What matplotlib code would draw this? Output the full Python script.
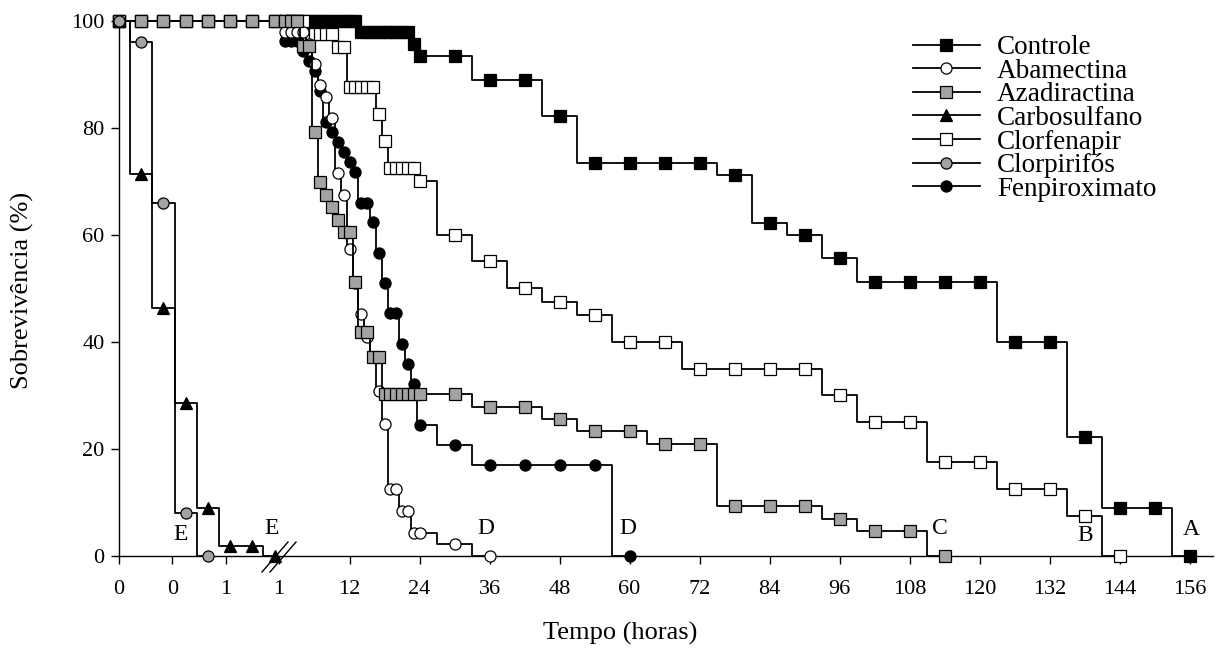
import matplotlib

matplotlib.use("Agg")

import matplotlib.pyplot as plt
from matplotlib.lines import Line2D

plt.rcParams["font.family"] = ["Liberation Serif", "DejaVu Serif"]

# first part of the broken axis: readings every 10 minutes
minutes_left = [0, 10, 20, 30, 40, 50, 60, 70]
left_ticks = [0, 0.4, 0.8, 1.2]
left_tick_labels = ["0", "0", "1", "1"]

# second part: hourly up to 24 h, then every 6 h
hours_right = [1, 2, 3, 4, 5, 6, 7, 8, 9, 10, 11, 12, 13, 14, 15, 16, 17, 18,
               19, 20, 21, 22, 23, 24, 30, 36, 42, 48, 54, 60, 66, 72, 78, 84,
               90, 96, 102, 108, 114, 120, 126, 132, 138, 144, 150, 156]
right_ticks = [12, 24, 36, 48, 60, 72, 84, 96, 108, 120, 132, 144, 156]

names = ["Controle", "Abamectina", "Azadiractina", "Carbosulfano",
         "Clorfenapir", "Clorpirifós", "Fenpiroximato"]

controle_left = [100, 100, 100, 100, 100, 100, 100, 100]
controle_right = [100, 100, 100, 100, 100, 100, 100, 100, 100, 100, 100, 100,
                  100, 97.8, 97.8, 97.8, 97.8, 97.8, 97.8, 97.8, 97.8, 97.8,
                  95.6, 93.3, 93.3, 88.9, 88.9, 82.2, 73.3, 73.3, 73.3, 73.3,
                  71.1, 62.2, 60.0, 55.6, 51.1, 51.1, 51.1, 51.1, 40.0, 40.0,
                  22.2, 8.9, 8.9, 0]

abamectina_left = [100, 100, 100, 100, 100, 100, 100, 100]
abamectina_right = [97.8, 97.8, 97.8, 97.8, 95.6, 91.9, 87.9, 85.7, 81.7,
                    71.5, 67.5, 57.3, 51.0, 45.1, 40.9, 37.2, 30.8, 24.6,
                    12.5, 12.5, 8.4, 8.4, 4.3, 4.3, 2.2, 0]

azadiractina_left = [100, 100, 100, 100, 100, 100, 100, 100]
azadiractina_right = [100, 100, 100, 95.3, 95.3, 79.1, 69.8, 67.4, 65.1,
                      62.8, 60.5, 60.5, 51.2, 41.9, 41.9, 37.2, 37.2, 30.2,
                      30.2, 30.2, 30.2, 30.2, 30.2, 30.2, 30.2, 27.9, 27.9,
                      25.6, 23.3, 23.3, 20.9, 20.9, 9.3, 9.3, 9.3, 7.0, 4.7,
                      4.7, 0]

carbosulfano_left = [100, 71.4, 46.4, 28.6, 8.9, 1.8, 1.8, 0]
carbosulfano_right = []

clorfenapir_left = [100, 100, 100, 100, 100, 100, 100, 100]
clorfenapir_right = [100, 100, 100, 100, 97.5, 97.5, 97.5, 97.5, 97.5, 95,
                     95, 87.5, 87.5, 87.5, 87.5, 87.5, 82.5, 77.5, 72.5, 72.5,
                     72.5, 72.5, 72.5, 70, 60, 55, 50, 47.5, 45, 40, 40, 35,
                     35, 35, 35, 30, 25, 25, 17.5, 17.5, 12.5, 12.5, 7.5, 0]

clorpirifos_left = [100, 96, 66, 8, 0]
clorpirifos_right = []

fenpiroximato_left = [100, 100, 100, 100, 100, 100, 100, 100]
fenpiroximato_right = [96.2, 96.2, 96.2, 94.3, 92.5, 90.6, 86.8, 81.1, 79.2,
                       77.4, 75.5, 73.6, 71.7, 66.0, 66.0, 62.3, 56.6, 50.9,
                       45.3, 45.3, 39.6, 35.8, 32.1, 24.5, 20.8, 17.0, 17.0,
                       17.0, 17.0, 0]

# letters of the mean comparison, placed near the end of each curve
letters_left = ["E", "E"]
letters_left_x = [0.465, 1.147]
letters_left_y = [4.1, 5.2]
letters_right = ["D", "D", "C", "B", "A"]
letters_right_x = [35.4, 59.7, 113.2, 138.1, 156.3]
letters_right_y = [5.2, 5.2, 5.2, 3.9, 4.9]

GRAY = "#a3a3a3"
styles = {
    "Controle": ("s", "black", 8.5),
    "Abamectina": ("o", "white", 8),
    "Azadiractina": ("s", GRAY, 8.5),
    "Carbosulfano": ("^", "black", 9),
    "Clorfenapir": ("s", "white", 8.5),
    "Clorpirifós": ("o", GRAY, 8),
    "Fenpiroximato": ("o", "black", 8),
}
data = {
    "Controle": (controle_left, controle_right),
    "Abamectina": (abamectina_left, abamectina_right),
    "Azadiractina": (azadiractina_left, azadiractina_right),
    "Carbosulfano": (carbosulfano_left, carbosulfano_right),
    "Clorfenapir": (clorfenapir_left, clorfenapir_right),
    "Clorpirifós": (clorpirifos_left, clorpirifos_right),
    "Fenpiroximato": (fenpiroximato_left, fenpiroximato_right),
}
draw_order = ["Fenpiroximato", "Controle", "Clorfenapir", "Abamectina",
              "Azadiractina", "Carbosulfano", "Clorpirifós"]

W, H = 1216, 658
fig = plt.figure(figsize=(W / 100, H / 100), dpi=100)


def box(x0, y0, x1, y1):
    return [x0 / W, 1 - y1 / H, (x1 - x0) / W, (y1 - y0) / H]


ax_l = fig.add_axes(box(119, 20.5, 280, 556))
ax_r = fig.add_axes(box(280, 20.5, 1213, 556))

left_xmax = (280 - 119) / 133.33
right_xmin = 0.07
ax_l.set_xlim(0, left_xmax)
ax_r.set_xlim(right_xmin, 160)
for ax in (ax_l, ax_r):
    ax.set_ylim(0, 100)
    ax.spines["top"].set_visible(False)
    ax.spines["right"].set_visible(False)
    ax.spines["bottom"].set_linewidth(1.0)
    ax.spines["left"].set_linewidth(1.0)
    ax.tick_params(direction="out", length=5.5, width=1.0, labelsize=16)
    ax.tick_params(axis="x", pad=12)
    ax.tick_params(axis="y", pad=5)
ax_r.spines["left"].set_visible(False)
ax_r.tick_params(axis="y", left=False, labelleft=False)

ax_l.set_xticks(left_ticks)
ax_l.set_xticklabels(left_tick_labels)
ax_l.set_yticks([0, 20, 40, 60, 80, 100])
ax_r.set_xticks(right_ticks)

LW = 1.3
for z, name in enumerate(draw_order):
    left_vals, right_vals = data[name]
    marker, face, ms = styles[name]
    lt = [m / 60 for m in minutes_left[:len(left_vals)]]
    xs, ys = list(lt), list(left_vals)
    if right_vals:
        xs.append(left_xmax)
        ys.append(left_vals[-1])
    kw = dict(zorder=3 + z, clip_on=False)
    ax_l.plot(xs, ys, drawstyle="steps-mid", color="black", lw=LW, **kw)
    ax_l.plot(lt, left_vals, ls="none", marker=marker, ms=ms, mfc=face,
              mec="black", mew=0.9, **kw)
    if right_vals:
        rt = hours_right[:len(right_vals)]
        ax_r.plot([right_xmin] + rt, [left_vals[-1]] + right_vals,
                  drawstyle="steps-mid", color="black", lw=LW, **kw)
        ax_r.plot(rt, right_vals, ls="none", marker=marker, ms=ms, mfc=face,
                  mec="black", mew=0.9, **kw)

for s, x, y in zip(letters_left, letters_left_x, letters_left_y):
    ax_l.text(x, y, s, fontsize=17, ha="center", va="center")
for s, x, y in zip(letters_right, letters_right_x, letters_right_y):
    ax_r.text(x, y, s, fontsize=17, ha="center", va="center")

# break marks on the time axis
for x0 in (262, 270):
    fig.add_artist(Line2D([x0 / W, (x0 + 26) / W],
                          [1 - 572 / H, 1 - 542 / H],
                          transform=fig.transFigure, color="black", lw=1.0))

handles = []
for name in names:
    marker, face, ms = styles[name]
    handles.append(Line2D([], [], color="black", lw=LW, marker=marker,
                          ms=ms, mfc=face, mec="black", mew=0.9))
fig.legend(handles, names, loc="upper left",
           bbox_to_anchor=(913 / W, 1 - 35 / H),
           bbox_transform=fig.transFigure, frameon=False, fontsize=19.5,
           borderpad=0, borderaxespad=0, handlelength=2.47,
           handletextpad=0.63, labelspacing=-0.05)

fig.text(620 / W, 1 - 633 / H, "Tempo (horas)", fontsize=19,
         ha="center", va="center")
fig.text(22 / W, 1 - 290 / H, "Sobrevivência (%)", fontsize=19,
         ha="center", va="center", rotation=90)

fig.savefig("out.png", dpi=100)
plt.close(fig)
